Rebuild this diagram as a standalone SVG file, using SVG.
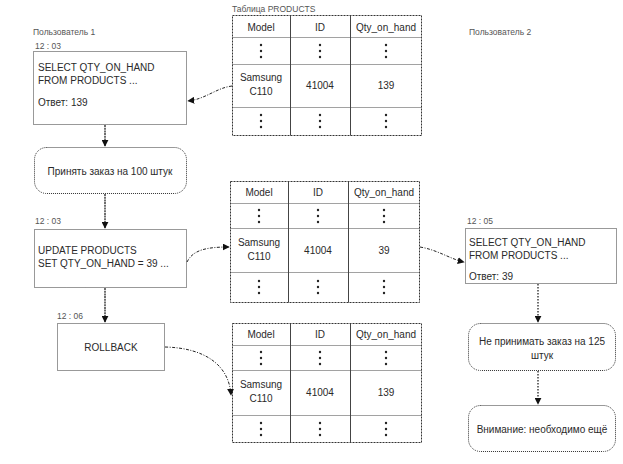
<svg xmlns="http://www.w3.org/2000/svg" width="623" height="464" viewBox="0 0 623 464">
<defs>
<style>
text{font-family:"Liberation Sans",Arial,sans-serif;fill:#2a2a2a}
.t{font-size:10px}
.s{font-size:8.5px;fill:#555}
.box{fill:#fff;stroke:#333;stroke-width:1;stroke-dasharray:1 1}
.tb{fill:#fff;stroke:#333;stroke-width:1;stroke-dasharray:2 1}
.col{stroke:#444;stroke-width:1}
.row{stroke:#444;stroke-width:1;stroke-dasharray:1 1}
.down{stroke:#222;stroke-width:1.3;fill:none;stroke-dasharray:2 0.7}
.dot{stroke:#222;stroke-width:1.3;fill:none;stroke-dasharray:1.5 1.5}
.cur{stroke:#222;stroke-width:1;fill:none;stroke-dasharray:3 1.5 1 1.5}
.c{text-anchor:middle}
</style>
<marker id="ah" viewBox="0 0 10 10" refX="9" refY="5" markerWidth="7" markerHeight="7" orient="auto" markerUnits="userSpaceOnUse">
<path d="M0,0 L10,5 L0,10 z" fill="#111"/>
</marker>
<g id="dots"><circle cx="0" cy="-6" r="1.2" fill="#222"/><circle cx="0" cy="0" r="1.2" fill="#222"/><circle cx="0" cy="6" r="1.2" fill="#222"/></g>
</defs>

<text class="s" x="33" y="35">Пользователь 1</text>
<text class="s" x="469" y="35">Пользователь 2</text>

<g id="q1">
<text class="s" x="35" y="49">12 : 03</text>
<rect class="box" x="33.5" y="51.5" width="153" height="73"/>
<text class="t" x="38" y="71">SELECT QTY_ON_HAND</text>
<text class="t" x="38" y="84">FROM PRODUCTS ...</text>
<text class="t" x="38" y="106">Ответ: 139</text>
</g>

<g id="accept">
<rect class="box" x="34.5" y="147.5" width="152" height="46" rx="12"/>
<text class="t c" x="110" y="175">Принять заказ на 100 штук</text>
</g>

<g id="upd">
<text class="s" x="35" y="224">12 : 03</text>
<rect class="box" x="34.5" y="229.5" width="152" height="58"/>
<text class="t" x="38" y="254">UPDATE PRODUCTS</text>
<text class="t" x="38" y="267">SET QTY_ON_HAND = 39 ...</text>
</g>

<g id="rollback">
<text class="s" x="57" y="319">12 : 06</text>
<rect class="box" x="57.5" y="323.5" width="107" height="47"/>
<text class="t c" x="111" y="351">ROLLBACK</text>
</g>

<g id="q2">
<text class="s" x="467" y="224">12 : 05</text>
<rect class="box" x="465.5" y="228.5" width="151" height="55"/>
<text class="t" x="469" y="246">SELECT QTY_ON_HAND</text>
<text class="t" x="469" y="259">FROM PRODUCTS ...</text>
<text class="t" x="469" y="280">Ответ: 39</text>
</g>

<g id="reject">
<rect class="box" x="468.5" y="323.5" width="147" height="47" rx="12"/>
<text class="t c" x="542" y="345">Не принимать заказ на 125</text>
<text class="t c" x="542" y="359">штук</text>
</g>

<g id="warn">
<rect class="box" x="468.5" y="405.5" width="147" height="46" rx="12"/>
<text class="t c" x="542" y="433">Внимание: необходимо ещё</text>
</g>

<g id="table1">
<text class="s" x="232" y="12">Таблица PRODUCTS</text>
<rect class="tb" x="232.5" y="15.5" width="189" height="120"/>
<line class="col" x1="290.5" y1="15.5" x2="290.5" y2="135.5"/>
<line class="col" x1="350.5" y1="15.5" x2="350.5" y2="135.5"/>
<line class="row" x1="232.5" y1="37.5" x2="421.5" y2="37.5"/>
<line class="row" x1="232.5" y1="64.5" x2="421.5" y2="64.5"/>
<line class="row" x1="232.5" y1="107.5" x2="421.5" y2="107.5"/>
<text class="t c" x="261" y="31">Model</text>
<text class="t c" x="320" y="31">ID</text>
<text class="t c" x="386" y="31">Qty_on_hand</text>
<use href="#dots" x="261" y="51"/><use href="#dots" x="320" y="51"/><use href="#dots" x="386" y="51"/>
<text class="t c" x="261" y="81">Samsung</text>
<text class="t c" x="261" y="95">C110</text>
<text class="t c" x="320" y="89">41004</text>
<text class="t c" x="386" y="89">139</text>
<use href="#dots" x="261" y="121"/><use href="#dots" x="320" y="121"/><use href="#dots" x="386" y="121"/>
</g>

<g id="table2">
<rect class="tb" x="230.5" y="181.5" width="189" height="121"/>
<line class="col" x1="288.5" y1="181.5" x2="288.5" y2="302.5"/>
<line class="col" x1="348.5" y1="181.5" x2="348.5" y2="302.5"/>
<line class="row" x1="230.5" y1="203.5" x2="419.5" y2="203.5"/>
<line class="row" x1="230.5" y1="228.5" x2="419.5" y2="228.5"/>
<line class="row" x1="230.5" y1="272.5" x2="419.5" y2="272.5"/>
<text class="t c" x="259" y="196">Model</text>
<text class="t c" x="318" y="196">ID</text>
<text class="t c" x="384" y="196">Qty_on_hand</text>
<use href="#dots" x="259" y="216"/><use href="#dots" x="318" y="216"/><use href="#dots" x="384" y="216"/>
<text class="t c" x="259" y="246">Samsung</text>
<text class="t c" x="259" y="260">C110</text>
<text class="t c" x="318" y="254">41004</text>
<text class="t c" x="384" y="254">39</text>
<use href="#dots" x="259" y="287"/><use href="#dots" x="318" y="287"/><use href="#dots" x="384" y="287"/>
</g>

<g id="table3">
<rect class="tb" x="232.5" y="323.5" width="189" height="119"/>
<line class="col" x1="290.5" y1="323.5" x2="290.5" y2="442.5"/>
<line class="col" x1="350.5" y1="323.5" x2="350.5" y2="442.5"/>
<line class="row" x1="232.5" y1="345.5" x2="421.5" y2="345.5"/>
<line class="row" x1="232.5" y1="370.5" x2="421.5" y2="370.5"/>
<line class="row" x1="232.5" y1="415.5" x2="421.5" y2="415.5"/>
<text class="t c" x="261" y="338">Model</text>
<text class="t c" x="320" y="338">ID</text>
<text class="t c" x="386" y="338">Qty_on_hand</text>
<use href="#dots" x="261" y="358"/><use href="#dots" x="320" y="358"/><use href="#dots" x="386" y="358"/>
<text class="t c" x="261" y="388">Samsung</text>
<text class="t c" x="261" y="402">C110</text>
<text class="t c" x="320" y="396">41004</text>
<text class="t c" x="386" y="396">139</text>
<use href="#dots" x="261" y="429"/><use href="#dots" x="320" y="429"/><use href="#dots" x="386" y="429"/>
</g>

<g id="connectors">
<line class="down" x1="105" y1="125" x2="105" y2="146" marker-end="url(#ah)"/>
<line class="down" x1="105" y1="194" x2="105" y2="228" marker-end="url(#ah)"/>
<line class="down" x1="105" y1="288" x2="105" y2="322" marker-end="url(#ah)"/>
<line class="dot" x1="538" y1="284" x2="538" y2="322" marker-end="url(#ah)"/>
<line class="dot" x1="538" y1="371" x2="538" y2="404" marker-end="url(#ah)"/>
<path class="cur" d="M232,86 C216,88 206,99 188,101" marker-end="url(#ah)"/>
<path class="cur" d="M187,262 C193,250 206,247 229,247" marker-end="url(#ah)"/>
<path class="cur" d="M420,247 C438,250 450,259 464,262" marker-end="url(#ah)"/>
<path class="cur" d="M165,347 C205,348 229,365 231,395" marker-end="url(#ah)"/>
</g>
</svg>
